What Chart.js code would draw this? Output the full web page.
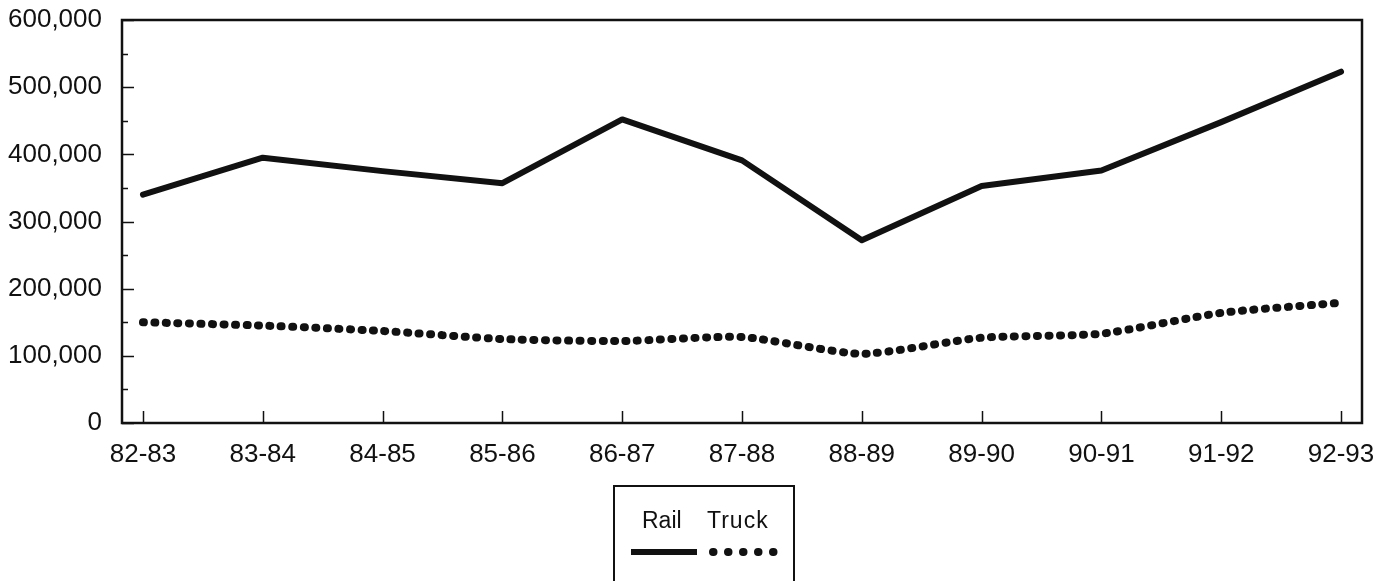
<!DOCTYPE html>
<html>
<head>
<meta charset="utf-8">
<script src="https://cdn.jsdelivr.net/npm/chart.js@4/dist/chart.umd.min.js"></script>
<style>
  html, body { margin: 0; padding: 0; background: #fff; }
  #wrap { position: relative; width: 1378px; height: 581px; overflow: hidden; }
  #chart { position: absolute; left: 0; top: 0; }
  #legend { position: absolute; left: 613px; top: 485px; width: 178px; height: 120px;
            border: 2px solid #111; border-bottom: none; }
  #legend span { position: absolute; top: 22px; font: 23px 'Liberation Sans', Arial, sans-serif;
                 line-height: 23px; color: #111; }
  #samples { position: absolute; left: 0; top: 0; pointer-events: none; }
</style>
</head>
<body>
<div id="wrap">
  <canvas id="chart" width="1378" height="581"></canvas>
  <div id="legend">
    <span style="left:27px">Rail</span>
    <span style="left:92px; letter-spacing:1px">Truck</span>
  </div>
  <svg id="samples" width="1378" height="581">
    <line x1="631" y1="552" x2="697" y2="552" stroke="#111" stroke-width="6"/>
    <line x1="713" y1="552" x2="775" y2="552" stroke="#111" stroke-width="8"
          stroke-linecap="round" stroke-dasharray="0.5 14.5"/>
  </svg>
</div>
<script>
// fiscal years
const years = ['82-83', '83-84', '84-85', '85-86', '86-87', '87-88', '88-89', '89-90', '90-91', '91-92', '92-93'];
// tonnage
const rail = [340000, 395000, 375000, 357000, 452000, 391000, 272000, 353000, 376000, 448000, 523000];
const truck = [150000, 145000, 137000, 125000, 122000, 128000, 103000, 127000, 133000, 164000, 179000];
const yTicks = [0, 100000, 200000, 300000, 400000, 500000, 600000];

const fontFamily = "'Liberation Sans', Arial, sans-serif";
const ink = '#111';

// box round the plot and the little inward tick marks
const framePlugin = {
    id: 'frame',
    beforeDatasetsDraw(chart) {
        const ctx = chart.ctx;
        const a = chart.chartArea;
        const x = chart.scales.x, y = chart.scales.y;
        ctx.save();
        ctx.strokeStyle = ink;
        ctx.lineWidth = 2.5;
        ctx.strokeRect(a.left, a.top, a.right - a.left, a.bottom - a.top);
        ctx.lineWidth = 1.5;
        ctx.beginPath();
        for (let v = 0; v <= 600000; v += 50000) {
            const py = Math.round(y.getPixelForValue(v)) + 0.5;
            const len = v % 100000 === 0 ? 12 : 6;
            ctx.moveTo(a.left, py);
            ctx.lineTo(a.left + len, py);
        }
        years.forEach((_, i) => {
            const px = Math.round(x.getPixelForValue(i)) + 0.5;
            ctx.moveTo(px, a.bottom);
            ctx.lineTo(px, a.bottom - 12);
        });
        ctx.stroke();
        ctx.restore();
    }
};

const ctx = document.getElementById('chart').getContext('2d');
new Chart(ctx, {
    type: 'line',
    plugins: [framePlugin],
    data: {
        datasets: [{
            label: 'Rail',
            data: rail.map((v, i) => ({x: i, y: v})),
            borderColor: ink,
            borderWidth: 6,
            borderJoinStyle: 'round',
            borderCapStyle: 'round',
            pointRadius: 0,
            tension: 0
        }, {
            label: 'Truck',
            data: truck.map((v, i) => ({x: i, y: v})),
            borderColor: ink,
            borderWidth: 8,
            borderCapStyle: 'round',
            borderDash: [1, 10.5],
            pointRadius: 0,
            tension: 0.2
        }]
    },
    options: {
        responsive: false,
        animation: false,
        layout: {padding: {top: 20, right: 16, bottom: 108, left: 0}},
        plugins: {
            legend: {display: false},
            tooltip: {enabled: false}
        },
        scales: {
            x: {
                type: 'linear',
                min: -0.175,
                max: 10.175,
                grid: {display: false, drawTicks: false},
                border: {display: false},
                afterBuildTicks: scale => {
                    scale.ticks = years.map((_, i) => ({value: i}));
                },
                afterFit: scale => {
                    scale.height = 50;
                    scale.paddingLeft = 0;
                    scale.paddingRight = 0;
                },
                ticks: {
                    padding: 16,
                    color: ink,
                    font: {family: fontFamily, size: 26},
                    maxRotation: 0,
                    autoSkip: false,
                    callback: v => years[v]
                }
            },
            y: {
                min: 0,
                max: 600000,
                grid: {display: false, drawTicks: false},
                border: {display: false},
                afterBuildTicks: scale => {
                    scale.ticks = yTicks.map(v => ({value: v}));
                },
                afterFit: scale => {
                    scale.width = 122;
                    scale.paddingTop = 0;
                    scale.paddingBottom = 0;
                },
                ticks: {
                    padding: 20,
                    color: ink,
                    font: {family: fontFamily, size: 26},
                    callback: v => v.toLocaleString('en-US')
                }
            }
        }
    }
});
</script>
</body>
</html>
